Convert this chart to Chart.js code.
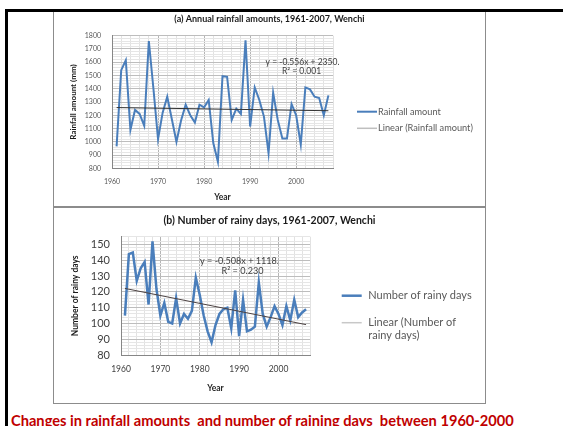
<!DOCTYPE html>
<html><head><meta charset="utf-8">
<script src="https://cdn.jsdelivr.net/npm/chart.js@4.4.0/dist/chart.umd.min.js"></script>
<style>
html,body{margin:0;padding:0;background:#fff;width:563px;height:426px;overflow:hidden;}
#stage{position:relative;width:563px;height:426px;}
.abs{position:absolute;}
#topbar{left:5px;top:9px;width:558px;height:3px;background:#000;}
#leftbar{left:5px;top:9px;width:3px;height:417px;background:#000;}
#boxA{left:53px;top:11px;width:431px;height:194px;border:1px solid #8c8c8c;}
#boxB{left:53px;top:207px;width:431px;height:195px;border:1px solid #8c8c8c;}
#cA{left:53px;top:11px;}
#cB{left:53px;top:207px;}
#caption{left:11px;top:412px;font-family:Lato;font-weight:bold;font-size:14.65px;line-height:1.2;color:#c00000;white-space:pre;}
</style></head>
<body><div id="stage">
<div id="boxA" class="abs"></div>
<div id="boxB" class="abs"></div>
<canvas id="cA" class="abs" width="433" height="196"></canvas>
<canvas id="cB" class="abs" width="433" height="197"></canvas>
<div id="topbar" class="abs"></div>
<div id="leftbar" class="abs"></div>
<div id="caption" class="abs">Changes in rainfall amounts  and number of raining days  between 1960-2000</div>
</div>
<script>
// ---- data ----
const years = [1961,1962,1963,1964,1965,1966,1967,1968,1969,1970,1971,1972,1973,1974,1975,1976,1977,1978,1979,1980,1981,1982,1983,1984,1985,1986,1987,1988,1989,1990,1991,1992,1993,1994,1995,1996,1997,1998,1999,2000,2001,2002,2003,2004,2005,2006,2007];
const rainfall = [965,1540,1615,1090,1240,1210,1120,1760,1400,1020,1220,1340,1170,1000,1160,1280,1200,1145,1280,1260,1315,990,850,1495,1490,1165,1250,1210,1765,1115,1410,1315,1190,915,1370,1165,1025,1025,1285,1200,980,1410,1395,1340,1330,1200,1350];
const rainyDays = [105,144,145,127,135,139,112,152,122,105,113,101,100,116,100,106,103,108,129,118,105,95,88,99,106,109,110,97,121,92,115,95,96,98,126,106,98,104,111,106,99,111,102,115,104,107,109];
const yearTicks = [1960,1970,1980,1990,2000];
const rainfallTicks = [800,900,1000,1100,1200,1300,1400,1500,1600,1700,1800];
const daysTicks = [80,90,100,110,120,130,140,150];
const titleA = '(a) Annual rainfall amounts, 1961-2007, Wenchi';
const titleB = '(b) Number of rainy days, 1961-2007, Wenchi';
const seriesA = 'Rainfall amount';
const trendA = 'Linear (Rainfall amount)';
const seriesB = 'Number of rainy days';
const trendB = 'Linear (Number of rainy days)';
const eqA = ['y = -0.556x + 2350.', 'R\u00b2 = 0.001'];
const eqB = ['y = -0.508x + 1118.', 'R\u00b2 = 0.230'];

// least-squares linear trend from the data
function linFit(xs, ys){
  const n = xs.length; let sx=0, sy=0, sxx=0, sxy=0;
  for (let i=0;i<n;i++){ sx+=xs[i]; sy+=ys[i]; sxx+=xs[i]*xs[i]; sxy+=xs[i]*ys[i]; }
  const b = (n*sxy - sx*sy)/(n*sxx - sx*sx); const a = (sy - b*sx)/n;
  return [{x:xs[0], y:a+b*xs[0]}, {x:xs[n-1], y:a+b*xs[n-1]}];
}
const pts = (xs, ys) => xs.map((x,i)=>({x, y:ys[i]}));

const BLUE = '#4a7ebb';
const extras = {
  id: 'extras',
  afterDraw(chart, args, o){
    const ctx = chart.ctx; ctx.save();
    ctx.textBaseline = 'middle';
    o.legend.forEach(it => {
      ctx.strokeStyle = it.color; ctx.lineWidth = it.width;
      ctx.beginPath(); ctx.moveTo(it.x1, it.y); ctx.lineTo(it.x2, it.y); ctx.stroke();
      ctx.fillStyle = o.legendColor; ctx.font = o.legendFont; ctx.textAlign = 'left';
      it.lines.forEach((t,i) => ctx.fillText(t, it.tx, it.y + i*o.legendLineH));
    });
    ctx.fillStyle = o.eqColor; ctx.font = o.eqFont; ctx.textAlign = 'center';
    o.eq.forEach((t,i) => ctx.fillText(t, o.eqX[i], o.eqY[i]));
    ctx.restore();
  }
};

function makeChart(id, cfg){
  const isMajorX = v => yearTicks.includes(v);
  return new Chart(document.getElementById(id), {
    type: 'line',
    data: { datasets: [
      { label: cfg.series, data: pts(years, cfg.values), borderColor: BLUE, borderWidth: cfg.lw, pointRadius: 0, tension: 0, order: 1 },
      { label: cfg.trend, data: linFit(years, cfg.values), borderColor: cfg.trendColor, borderWidth: 1, pointRadius: 0, order: 0 }
    ]},
    options: {
      responsive: false, animation: false, devicePixelRatio: 1,
      layout: { padding: 0 },
      plugins: {
        legend: { display: false }, tooltip: { enabled: false },
        title: { display: true, text: cfg.title, color: '#1a1a1a', font: { family: 'Lato', size: cfg.titleSize, weight: 'bold', lineHeight: 1.2 }, padding: cfg.titlePad },
        extras: cfg.extras
      },
      scales: {
        x: { type: 'linear', min: 1960, max: 2008,
          afterFit: s => { s.height = cfg.xH; },
          border: { display: true, color: '#868686', width: 1 },
          grid: { drawTicks: false, lineWidth: 1, color: c => isMajorX(c.tick.value) ? '#b4b4b4' : '#e2e2e2' },
          ticks: { stepSize: 2, autoSkip: false, maxRotation: 0, padding: cfg.xTickPad, color: cfg.tickColor, font: { family: 'Lato', size: cfg.xTickSize }, callback: v => isMajorX(v) ? String(v) : '' },
          title: { display: true, text: 'Year', color: '#262626', font: { family: 'Lato', size: cfg.xTitleSize, weight: 'bold' }, padding: { top: 0, bottom: cfg.xTitlePad } }
        },
        y: { type: 'linear', min: cfg.yMin, max: cfg.yMax,
          afterFit: s => { s.width = cfg.yW; },
          border: { display: true, color: '#868686', width: 1 },
          grid: { drawTicks: false, lineWidth: 1, color: c => cfg.yTicks.includes(c.tick.value) ? '#bdbdbd' : '#e6e6e6' },
          ticks: { stepSize: cfg.yStep, autoSkip: false, padding: cfg.yTickPad, color: cfg.tickColor, font: { family: 'Lato', size: cfg.yTickSize }, callback: v => cfg.yTicks.includes(v) ? String(v) : '' },
          title: { display: true, text: cfg.yTitle, color: '#1a1a1a', font: { family: 'Lato', size: cfg.yTitleSize, weight: 'bold' }, padding: { top: cfg.yTitlePad, bottom: 0 } }
        },
        legendSpace: { type: 'linear', position: 'right', display: true,
          afterFit: s => { s.width = cfg.padRight; },
          grid: { display: false, drawTicks: false }, border: { display: false },
          ticks: { display: false }, title: { display: false }
        }
      }
    },
    plugins: [extras]
  });
}

makeChart('cA', {
  series: seriesA, trend: trendA, values: rainfall, lw: 2, trendColor: '#333333',
  padRight: 153, title: titleA, titleSize: 9, titlePad: { top: 2.6, bottom: 11.3 },
  xH: 38.7, xTickPad: 8.9, xTickSize: 7, xTitleSize: 8.5, xTitlePad: 4.2,
  yMin: 800, yMax: 1800, yStep: 20, yTicks: rainfallTicks, yW: 59, yTickPad: 11, yTickSize: 7,
  yTitle: 'Rainfall amount (mm)', yTitleSize: 8, yTitlePad: 15.2, tickColor: '#595959',
  extras: {
    legendColor: '#595959', legendFont: '9.2px Lato', legendLineH: 10,
    legend: [
      { x1: 304, x2: 324, y: 100.7, tx: 325, color: BLUE, width: 2, lines: [seriesA] },
      { x1: 304, x2: 324, y: 117.3, tx: 325, color: '#bfbfbf', width: 1.5, lines: [trendA] }
    ],
    eqColor: '#404040', eqFont: '8.5px Lato', eq: eqA, eqX: [249.5, 248.5], eqY: [51.3, 60]
  }
});

makeChart('cB', {
  series: seriesB, trend: trendB, values: rainyDays, lw: 2.5, trendColor: '#4d4343',
  padRight: 176, title: titleB, titleSize: 10.5, titlePad: { top: 7.7, bottom: 9.4 },
  xH: 49, xTickPad: 8.9, xTickSize: 8.5, xTitleSize: 8.5, xTitlePad: 11,
  yMin: 80, yMax: 155, yStep: 2, yTicks: daysTicks, yW: 68, yTickPad: 11, yTickSize: 11,
  yTitle: 'Number of rainy days', yTitleSize: 8.5, yTitlePad: 16.9, tickColor: '#404040',
  extras: {
    legendColor: '#595959', legendFont: '11px Lato', legendLineH: 13,
    legend: [
      { x1: 288.7, x2: 308.7, y: 88.7, tx: 315.3, color: BLUE, width: 2.5, lines: [seriesB] },
      { x1: 288.7, x2: 308.7, y: 115.7, tx: 315.3, color: '#c8c8c8', width: 1.5, lines: ['Linear (Number of', 'rainy days)'] }
    ],
    eqColor: '#404040', eqFont: '9.1px Lato', eq: eqB, eqX: [186.5, 189.5], eqY: [54, 63.7]
  }
});
</script>
</body></html>
